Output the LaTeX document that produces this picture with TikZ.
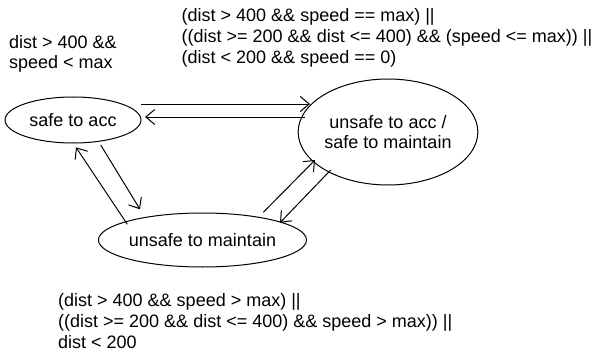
\documentclass[tikz,border=0pt]{standalone}
\usepackage{fontspec}
\setmainfont{Liberation Sans}
\usetikzlibrary{shapes.geometric,arrows.meta,calc}
\tikzset{
  state/.style={ellipse,draw,line width=1pt,inner sep=0pt,align=center,font=\fontsize{18}{20.7}\selectfont},
  cond/.style={anchor=west,inner sep=0pt,align=left,font=\fontsize{18}{20.7}\selectfont},
  arr/.style={line width=1pt,-{Straight Barb[length=9pt,width=15pt,line width=1pt]}}
}
\begin{document}
\begin{tikzpicture}[x=1pt,y=-1pt]
\useasboundingbox (0,0) rectangle (592,353);
\node[state,minimum width=136pt,minimum height=46pt] (a) at (73,120) {safe to acc};
\node[state,minimum width=166pt,minimum height=106pt] (b) at (388,132) {unsafe to acc /\\safe to maintain};
\node[state,minimum width=176pt,minimum height=54pt] (c) at (202.5,240) {unsafe to maintain};
\node[cond] (l1) at (9,53.7) {dist > 400 \&\&\\speed < max};
\node[cond] (l2) at (181.5,37.7) {(dist > 400 \&\& speed == max) ||\\((dist >= 200 \&\& dist <= 400) \&\& (speed <= max)) ||\\(dist < 200 \&\& speed == 0)};
\node[cond] (l3) at (58,321) {(dist > 400 \&\& speed > max) ||\\((dist >= 200 \&\& dist <= 400) \&\& speed > max)) ||\\dist < 200};
\draw[arr] ($(a)+(68,-16)$) -- ($(b)+(-78,-28)$);
\draw[arr] ($(b)+(-83,-15)$) -- ($(a)+(72,-3)$);
\draw[arr] ($(c)+(-75.2,-15.7)$) -- ($(a)+(3,27.3)$);
\draw[arr] ($(a)+(27.7,25)$) -- ($(c)+(-62.5,-30.7)$);
\draw[arr] ($(c)+(60.8,-27.7)$) -- ($(b)+(-73,28)$);
\draw[arr] ($(b)+(-57.3,38)$) -- ($(c)+(77.5,-17.3)$);
\end{tikzpicture}
\end{document}
